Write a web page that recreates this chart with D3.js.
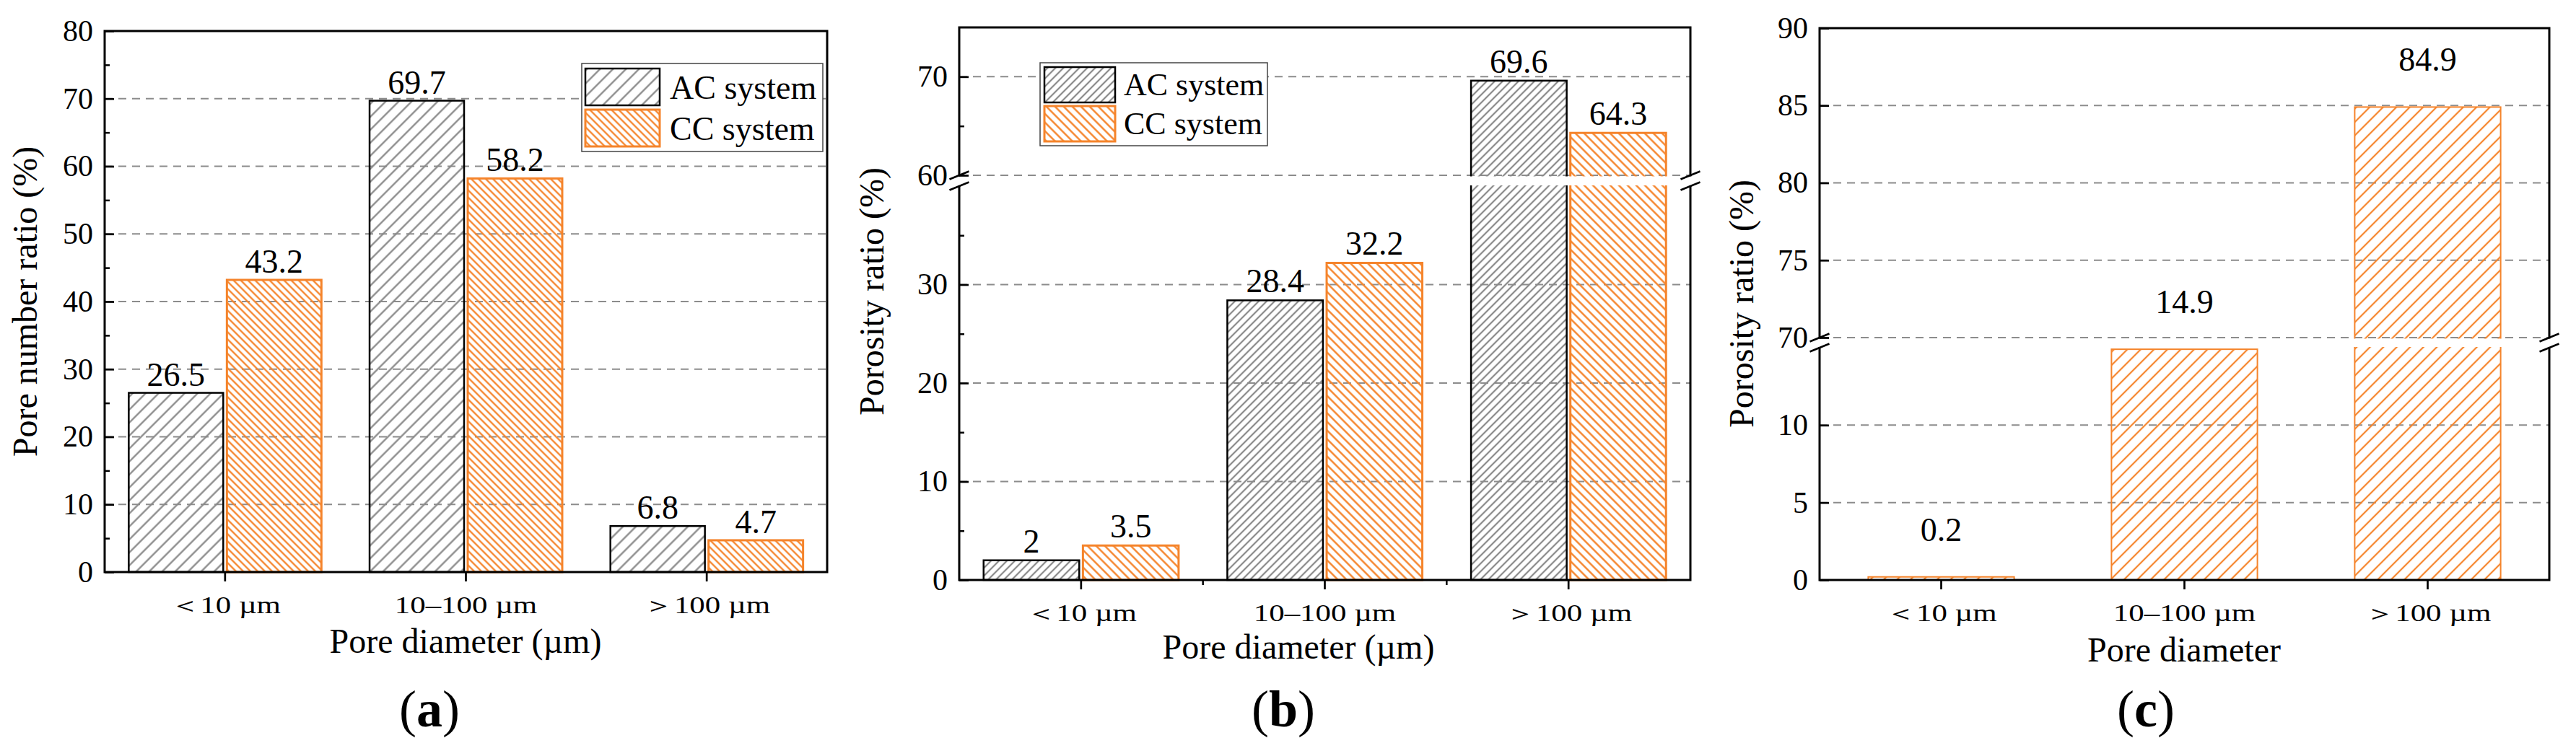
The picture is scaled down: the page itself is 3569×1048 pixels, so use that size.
<!DOCTYPE html>
<html>
<head>
<meta charset="utf-8">
<script src="https://cdn.jsdelivr.net/npm/d3@7"></script>
<style>
    body { margin: 0; background: #fff; }
    svg { display: block; }
    text { font-family: "Liberation Serif", "Times New Roman", serif; fill: #000; }
</style>
</head>
<body>
<svg id="chart" width="3569" height="1048"></svg>
<script>
//Datos
const categories = ["＜10 µm", "10–100 µm", "＞100 µm"];
const seriesNames = ["AC system", "CC system"];

//(a) pore number ratio
const poreNumberAC = [26.5, 69.7, 6.8];
const poreNumberCC = [43.2, 58.2, 4.7];
//(b) porosity ratio
const porosityAC = [2, 28.4, 69.6];
const porosityCC = [3.5, 32.2, 64.3];
//(c) porosity ratio
const porosityC = [0.2, 14.9, 84.9];

//Ticks
const ticksA = [0, 10, 20, 30, 40, 50, 60, 70, 80];
const minorA = [5, 15, 25, 35, 45, 55, 65, 75];
const ticksBLow = [0, 10, 20, 30];
const minorBLow = [5, 15, 25, 35];
const ticksBHigh = [60, 70];
const minorBHigh = [65];
const ticksCLow = [0, 5, 10];
const ticksCHigh = [70, 75, 80, 85, 90];

const gray = "#8a8a8a";
const orange = "#f5842b";

let svg = d3.select("#chart");
let defs = svg.append("defs");

//Patrones de rayado
function hatch(id, color, step, slope, width) {
    let w = step / Math.SQRT2;
    let p = defs.append("pattern")
        .attr("id", id)
        .attr("patternUnits", "userSpaceOnUse")
        .attr("width", w)
        .attr("height", 20)
        .attr("patternTransform", "rotate(" + (slope == "/" ? 45 : -45) + ")");
    p.append("line")
        .attr("x1", w / 2).attr("x2", w / 2)
        .attr("y1", -2).attr("y2", 22)
        .attr("stroke", color)
        .attr("stroke-width", width);
}

hatch("acA", gray, 18, "/", 2.3);
hatch("ccA", orange, 10, "\\", 2.4);
hatch("acB", gray, 11, "/", 2.2);
hatch("ccB", orange, 12, "\\", 2.4);
hatch("ccC", orange, 18.5, "/", 2.2);

function drawPanel(cfg) {
    let g = svg.append("g");

    let x = d3.scaleBand().domain(categories).range([cfg.x0, cfg.x1]).padding(0);
    let names = cfg.series.map(d => d.name);
    let groupW = x.bandwidth() * cfg.group;
    let sub = d3.scaleBand().domain(names).range([0, groupW]).paddingInner(cfg.inner).paddingOuter(0);

    cfg.segs.forEach(s => {
        s.scale = d3.scaleLinear().domain(s.domain).range([s.bottom, s.top]);
    });
    function yOf(v) {
        let s = cfg.segs.find(s => v >= s.domain[0] && v <= s.domain[1]) || cfg.segs[cfg.segs.length - 1];
        return s.scale(v);
    }
    let yZero = cfg.segs[0].scale(0);

    //Lineas de cuadricula
    cfg.segs.forEach(s => {
        g.selectAll(null)
            .data(s.ticks.filter(t => Math.abs(s.scale(t) - cfg.y0) > 2 && Math.abs(s.scale(t) - cfg.y1) > 2))
            .enter()
            .append("line")
            .attr("x1", cfg.x0).attr("x2", cfg.x1)
            .attr("y1", d => s.scale(d)).attr("y2", d => s.scale(d))
            .attr("stroke", "#8c8c8c")
            .attr("stroke-width", 2)
            .attr("stroke-dasharray", "11,8");
    });

    //Barras
    cfg.series.forEach(ser => {
        g.selectAll(null)
            .data(ser.values)
            .enter()
            .append("rect")
            .attr("x", (d, i) => x(categories[i]) + (x.bandwidth() - groupW) / 2 + sub(ser.name))
            .attr("y", d => yOf(d))
            .attr("width", sub.bandwidth())
            .attr("height", d => yZero - yOf(d))
            .attr("fill", ser.fill)
            .attr("stroke", ser.stroke)
            .attr("stroke-width", ser.sw);
    });

    //Marco
    g.append("rect")
        .attr("x", cfg.x0).attr("y", cfg.y0)
        .attr("width", cfg.x1 - cfg.x0).attr("height", cfg.y1 - cfg.y0)
        .attr("fill", "none")
        .attr("stroke", "#000")
        .attr("stroke-width", 3);

    //Corte del eje
    if (cfg.segs.length > 1) {
        let gapTop = cfg.segs[1].bottom;
        let gapBot = cfg.segs[0].top;
        g.append("rect")
            .attr("x", cfg.x0 - 4).attr("y", gapTop + 1.5)
            .attr("width", cfg.x1 - cfg.x0 + 8).attr("height", gapBot - gapTop - 2.5)
            .attr("fill", "#fff");
        [cfg.x0, cfg.x1].forEach(ax => {
            [gapTop, gapBot].forEach(gy => {
                g.append("line")
                    .attr("x1", ax - 13.5).attr("y1", gy + 5.5)
                    .attr("x2", ax + 13.5).attr("y2", gy - 5.5)
                    .attr("stroke", "#000")
                    .attr("stroke-width", 2.6);
            });
        });
    }

    //Eje Y
    cfg.segs.forEach(s => {
        let ay = g.append("g")
            .attr("transform", "translate(" + cfg.x0 + ",0)")
            .call(d3.axisLeft(s.scale).tickValues(s.ticks).tickSize(-13).tickPadding(16).tickFormat(d3.format("d")));
        ay.select(".domain").remove();
        ay.selectAll(".tick line").attr("stroke-width", 2.7);
        ay.selectAll(".tick text")
            .attr("font-family", null)
            .style("font-size", "42px");
        ay.attr("font-family", null).attr("font-size", null);
        if (s.minor) {
            let am = g.append("g")
                .attr("transform", "translate(" + cfg.x0 + ",0)")
                .call(d3.axisLeft(s.scale).tickValues(s.minor).tickSize(-7).tickFormat(""));
            am.select(".domain").remove();
            am.selectAll(".tick line").attr("stroke-width", 2.5);
        }
    });

    //Eje X
    let axb = g.append("g")
        .attr("transform", "translate(0," + cfg.y1 + ")")
        .call(d3.axisBottom(x).tickSize(13).tickSizeOuter(0));
    axb.select(".domain").remove();
    axb.attr("font-family", null).attr("font-size", null);
    axb.selectAll(".tick line").attr("stroke-width", 2.7);
    axb.selectAll(".tick text")
        .attr("y", 57)
        .attr("dy", 0)
        .attr("transform", "scale(1.3,1)")
        .style("font-size", "33px");
    if (cfg.xMinor) {
        g.selectAll(null)
            .data(categories.slice(1))
            .enter()
            .append("line")
            .attr("x1", d => x(d)).attr("x2", d => x(d))
            .attr("y1", cfg.y1).attr("y2", cfg.y1 + 7)
            .attr("stroke", "#000")
            .attr("stroke-width", 2.5);
    }

    //Etiquetas de valor
    cfg.series.forEach(ser => {
        g.selectAll(null)
            .data(ser.values)
            .enter()
            .append("text")
            .attr("x", (d, i) => x(categories[i]) + (x.bandwidth() - groupW) / 2 + sub(ser.name) + sub.bandwidth() / 2)
            .attr("y", d => yOf(d) - cfg.labelGap)
            .attr("text-anchor", "middle")
            .style("font-size", "46px")
            .text(d => d);
    });

    //Titulos
    g.append("text")
        .attr("transform", "translate(" + cfg.yTitleX + "," + cfg.yTitleY + ") rotate(-90)")
        .attr("text-anchor", "middle")
        .style("font-size", "48px")
        .text(cfg.yTitle);
    g.append("text")
        .attr("x", cfg.xTitleX).attr("y", cfg.xTitleY)
        .attr("text-anchor", "middle")
        .style("font-size", "48px")
        .text(cfg.xTitle);
    let tag = g.append("text")
        .attr("x", cfg.tagX).attr("y", 1007)
        .attr("text-anchor", "middle")
        .style("font-size", "72px");
    tag.append("tspan").text("(");
    tag.append("tspan").attr("font-weight", "bold").text(cfg.tag);
    tag.append("tspan").text(")");

    //Leyenda
    if (cfg.legend) {
        let L = cfg.legend;
        let lg = g.append("g");
        lg.append("rect")
            .attr("x", L.x).attr("y", L.y).attr("width", L.w).attr("height", L.h)
            .attr("fill", "#fff")
            .attr("stroke", "#444")
            .attr("stroke-width", 1.5);
        cfg.series.forEach((ser, i) => {
            lg.append("rect")
                .attr("x", L.sx).attr("y", L.rows[i])
                .attr("width", L.sw).attr("height", L.sh)
                .attr("fill", ser.fill)
                .attr("stroke", ser.stroke)
                .attr("stroke-width", ser.sw);
            lg.append("text")
                .attr("x", L.tx).attr("y", L.base[i])
                .style("font-size", L.fs + "px")
                .text(ser.name);
        });
    }
}

drawPanel({
    x0: 145, x1: 1146, y0: 43, y1: 793,
    segs: [{domain: [0, 80], bottom: 793, top: 43, ticks: ticksA, minor: minorA}],
    series: [
        {name: seriesNames[0], values: poreNumberAC, fill: "url(#acA)", stroke: "#000", sw: 2.5},
        {name: seriesNames[1], values: poreNumberCC, fill: "url(#ccA)", stroke: orange, sw: 3}
    ],
    group: 0.8, inner: 0.037, labelGap: 10,
    yTitle: "Pore number ratio (%)", yTitleX: 51, yTitleY: 418,
    xTitle: "Pore diameter (µm)", xTitleX: 645, xTitleY: 905,
    tag: "a", tagX: 595, xMinor: false,
    legend: {x: 806, y: 88, w: 334, h: 122, sx: 811, sw: 103, sh: 51, rows: [95, 152], tx: 928, base: [137, 194], fs: 46}
});

drawPanel({
    x0: 1329, x1: 2342, y0: 38, y1: 804,
    segs: [
        {domain: [0, 40], bottom: 804, top: 258, ticks: ticksBLow, minor: minorBLow},
        {domain: [60, 75], bottom: 243, top: 38, ticks: ticksBHigh, minor: minorBHigh}
    ],
    series: [
        {name: seriesNames[0], values: porosityAC, fill: "url(#acB)", stroke: "#000", sw: 2.5},
        {name: seriesNames[1], values: porosityCC, fill: "url(#ccB)", stroke: orange, sw: 3}
    ],
    group: 0.8, inner: 0.037, labelGap: 11,
    yTitle: "Porosity ratio (%)", yTitleX: 1224, yTitleY: 404,
    xTitle: "Pore diameter (µm)", xTitleX: 1799, xTitleY: 913,
    tag: "b", tagX: 1778, xMinor: true,
    legend: {x: 1441, y: 87, w: 315, h: 115, sx: 1447, sw: 98, sh: 49, rows: [93, 147], tx: 1557, base: [132, 186], fs: 44}
});

drawPanel({
    x0: 2521, x1: 3532, y0: 39, y1: 804,
    segs: [
        {domain: [0, 15], bottom: 804, top: 482, ticks: ticksCLow},
        {domain: [70, 90], bottom: 468, top: 39, ticks: ticksCHigh}
    ],
    series: [
        {name: seriesNames[1], values: porosityC, fill: "url(#ccC)", stroke: orange, sw: 2}
    ],
    group: 0.6, inner: 0, labelGap: 50,
    yTitle: "Porosity ratio (%)", yTitleX: 2429, yTitleY: 421,
    xTitle: "Pore diameter", xTitleX: 3026, xTitleY: 917,
    tag: "c", tagX: 2973, xMinor: false,
    legend: null
});
</script>
</body>
</html>
